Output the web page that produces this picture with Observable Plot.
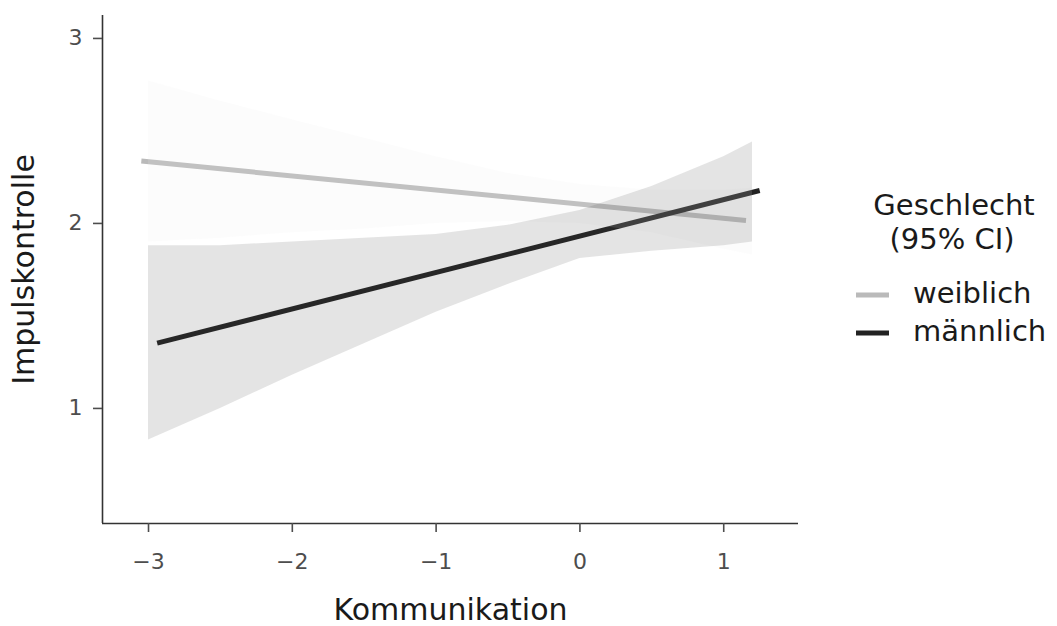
<!DOCTYPE html>
<html>
<head>
<meta charset="utf-8">
<script src="https://cdn.jsdelivr.net/npm/d3@7"></script>
<script src="https://cdn.jsdelivr.net/npm/@observablehq/plot@0.6"></script>
<style>
  html, body { margin: 0; padding: 0; background: #fff; }
  #chart { width: 1057px; height: 626px; }
</style>
</head>
<body>
<div id="chart"></div>
<script>
// ---- Data ----
const series = ["weiblich", "männlich"];
const seriesColors = ["#bababa", "#222222"];
const legendTitle = ["Geschlecht", "(95% CI)"];
const xTicks = [-3, -2, -1, 0, 1];
const yTicks = [1, 2, 3];

// Confidence band x positions
const bandX = [-3, -2.5, -2, -1.5, -1, -0.5, 0, 0.5, 1, 1.2];
const weiblichLower = [1.90, 1.92, 1.95, 1.97, 2.00, 2.01, 2.00, 1.95, 1.86, 1.83];
const weiblichUpper = [2.77, 2.66, 2.56, 2.46, 2.36, 2.27, 2.21, 2.18, 2.18, 2.19];
const maennlichLower = [0.83, 1.00, 1.18, 1.35, 1.52, 1.67, 1.81, 1.85, 1.88, 1.90];
const maennlichUpper = [1.88, 1.88, 1.90, 1.92, 1.94, 1.99, 2.07, 2.20, 2.36, 2.44];

// Fitted lines
const weiblichLineX = [-3.05, 1.155];
const weiblichLineY = [2.337, 2.016];
const maennlichLineX = [-2.94, 1.25];
const maennlichLineY = [1.353, 2.178];

// ---- Build tables ----
const wBand = bandX.map((x, i) => ({x, lo: weiblichLower[i], hi: weiblichUpper[i]}));
const mBand = bandX.map((x, i) => ({x, lo: maennlichLower[i], hi: maennlichUpper[i]}));
const wLine = weiblichLineX.map((x, i) => ({x, y: weiblichLineY[i]}));
const mLine = maennlichLineX.map((x, i) => ({x, y: maennlichLineY[i]}));

const xDomain = [-3.32, 1.52];
const yDomain = [0.378, 3.124];
const fmt = d3.format("d");

const plot = Plot.plot({
  width: 1057,
  height: 626,
  marginLeft: 102,
  marginRight: 259,
  marginTop: 15,
  marginBottom: 103,
  x: {domain: xDomain},
  y: {domain: yDomain},
  style: {fontFamily: "'DejaVu Sans', sans-serif", background: "#fff"},
  marks: [
    Plot.line(wLine, {x: "x", y: "y", stroke: seriesColors[0], strokeWidth: 5, strokeLinecap: "butt"}),
    Plot.line(mLine, {x: "x", y: "y", stroke: seriesColors[1], strokeWidth: 5, strokeLinecap: "butt"}),
    Plot.areaY(wBand, {x: "x", y1: "lo", y2: "hi", fill: "#ebebeb", fillOpacity: 0.15}),
    Plot.areaY(mBand, {x: "x", y1: "lo", y2: "hi", fill: "#4b4b4b", fillOpacity: 0.15}),
    Plot.ruleX([xDomain[0]], {stroke: "#333", strokeWidth: 1.6}),
    Plot.ruleY([yDomain[0]], {stroke: "#333", strokeWidth: 1.6}),
    Plot.axisX({ticks: xTicks, tickFormat: fmt, tickSize: 9, tickPadding: 21, fontSize: 22, color: "#4d4d4d", strokeWidth: 1.6, label: null}),
    Plot.axisY({ticks: yTicks, tickFormat: fmt, tickSize: 9, tickPadding: 11, fontSize: 22, color: "#4d4d4d", strokeWidth: 1.6, label: null}),
    Plot.text(["Kommunikation"], {text: d => d, frameAnchor: "bottom", lineAnchor: "middle", textAnchor: "middle", dy: 87, fontSize: 30, fill: "#1a1a1a"}),
    Plot.text(["Impulskontrolle"], {text: d => d, frameAnchor: "left", lineAnchor: "middle", textAnchor: "middle", dx: -78, rotate: -90, fontSize: 30, fill: "#1a1a1a"})
  ]
});

document.getElementById("chart").appendChild(plot);

// ---- Legend (right side) ----
const svg = d3.select(plot);
const lg = svg.append("g")
  .attr("font-family", "'DejaVu Sans', sans-serif")
  .attr("fill", "#1a1a1a");
lg.append("text").attr("x", 954).attr("y", 214.5).attr("text-anchor", "middle").attr("font-size", 29).text(legendTitle[0]);
lg.append("text").attr("x", 952).attr("y", 249).attr("text-anchor", "middle").attr("font-size", 29).text(legendTitle[1]);
const keyY = [295, 333];
series.forEach((s, i) => {
  lg.append("line").attr("x1", 856).attr("x2", 889).attr("y1", keyY[i]).attr("y2", keyY[i])
    .attr("stroke", seriesColors[i]).attr("stroke-width", 5);
  lg.append("text").attr("x", 913).attr("y", keyY[i] + 7.5).attr("text-anchor", "start").attr("font-size", 29).text(s);
});
</script>
</body>
</html>
